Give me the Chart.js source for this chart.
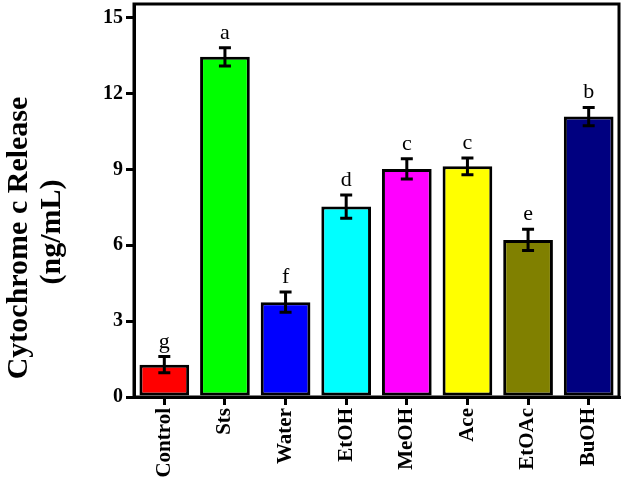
<!DOCTYPE html>
<html>
<head>
<meta charset="utf-8">
<script src="https://cdn.jsdelivr.net/npm/chart.js@4"></script>
<style>
  body { margin: 0; background: #fff; }
  #wrap { width: 625px; height: 484px; position: relative; }
</style>
</head>
<body>
<div id="wrap"><canvas id="cytc"></canvas></div>
<script>
// data
const groups = ['Control', 'Sts', 'Water', 'EtOH', 'MeOH', 'Ace', 'EtOAc', 'BuOH'];
const release = [1.28, 13.45, 3.75, 7.53, 9.02, 9.12, 6.21, 11.09];
const sem = [0.32, 0.36, 0.4, 0.46, 0.4, 0.33, 0.42, 0.36];
const letters = ['g', 'a', 'f', 'd', 'c', 'c', 'e', 'b'];
const barColors = ['#ff0000', '#00ff00', '#0000ff', '#00ffff', '#ff00ff', '#ffff00', '#808000', '#000080'];
const yTicks = [0, 3, 6, 9, 12, 15];

const serif = '"Liberation Serif", "Times New Roman", serif';

// error bars + significance letters
const errorBars = {
    id: 'errorBars',
    afterDatasetsDraw(chart) {
        let ctx = chart.ctx
        let x = chart.scales.x
        let y = chart.scales.y
        ctx.save()
        ctx.strokeStyle = '#000'
        ctx.lineWidth = 3
        for (let i = 0; i < release.length; i++) {
            let cx = x.getPixelForValue(i)
            let top = y.getPixelForValue(release[i] + sem[i])
            let bot = y.getPixelForValue(release[i] - sem[i])
            ctx.beginPath()
            ctx.moveTo(cx, top); ctx.lineTo(cx, bot)
            ctx.moveTo(cx - 6, top); ctx.lineTo(cx + 6, top)
            ctx.moveTo(cx - 6, bot); ctx.lineTo(cx + 6, bot)
            ctx.stroke()
            ctx.fillStyle = '#000'
            ctx.font = '22px ' + serif
            ctx.textAlign = 'center'
            ctx.textBaseline = 'alphabetic'
            ctx.fillText(letters[i], cx, top - 9)
        }
        ctx.restore()
    }
}

// box round the plot and the two-line y title
const frame = {
    id: 'frame',
    afterDraw(chart) {
        let ctx = chart.ctx
        let a = chart.chartArea
        ctx.save()
        ctx.strokeStyle = '#000'
        ctx.lineWidth = 3
        ctx.strokeRect(a.left, a.top, a.right - a.left, a.bottom - a.top)

        ctx.fillStyle = '#000'
        ctx.font = 'bold 30px ' + serif
        ctx.textAlign = 'center'
        ctx.textBaseline = 'alphabetic'
        ctx.translate(27, 238)
        ctx.rotate(-Math.PI / 2)
        ctx.fillText('Cytochrome c Release', 0, 0)
        ctx.fillText('(ng/mL)', 6, 33)
        ctx.restore()
    }
}

let cytcChart = new Chart(document.getElementById('cytc'), {
    type: 'bar',
    data: {
        labels: groups,
        datasets: [{
            data: release,
            backgroundColor: barColors,
            borderColor: '#000',
            borderWidth: 3,
            borderSkipped: false,
            barPercentage: 0.82,
            categoryPercentage: 1
        }]
    },
    options: {
        responsive: true,
        maintainAspectRatio: false,
        animation: false,
        layout: { padding: { top: 4, right: 6, left: 0, bottom: 0 } },
        plugins: {
            legend: { display: false },
            tooltip: { enabled: false }
        },
        scales: {
            x: {
                offset: true,
                grid: { offset: false, drawOnChartArea: false, tickLength: 8, lineWidth: 3, color: '#000' },
                border: { color: '#000', width: 3 },
                ticks: {
                    autoSkip: false,
                    minRotation: 90,
                    maxRotation: 90,
                    padding: 3,
                    color: '#000',
                    font: { family: serif, size: 21, weight: 'bold' }
                },
                afterFit: function (s) {
                    s.height = 87
                    s.paddingLeft = 0
                    s.paddingRight = 0
                }
            },
            y: {
                min: 0,
                max: 15.54,
                grid: { drawOnChartArea: false, tickLength: 8, lineWidth: 3, color: '#000' },
                border: { color: '#000', width: 3 },
                ticks: {
                    padding: 3,
                    color: '#000',
                    font: { family: serif, size: 20, weight: 'bold' }
                },
                afterBuildTicks: function (s) { s.ticks = yTicks.map(v => ({ value: v })) },
                afterFit: function (s) {
                    s.width = 134
                    s.paddingTop = 0
                    s.paddingBottom = 0
                }
            }
        }
    },
    plugins: [errorBars, frame]
});
</script>
</body>
</html>
